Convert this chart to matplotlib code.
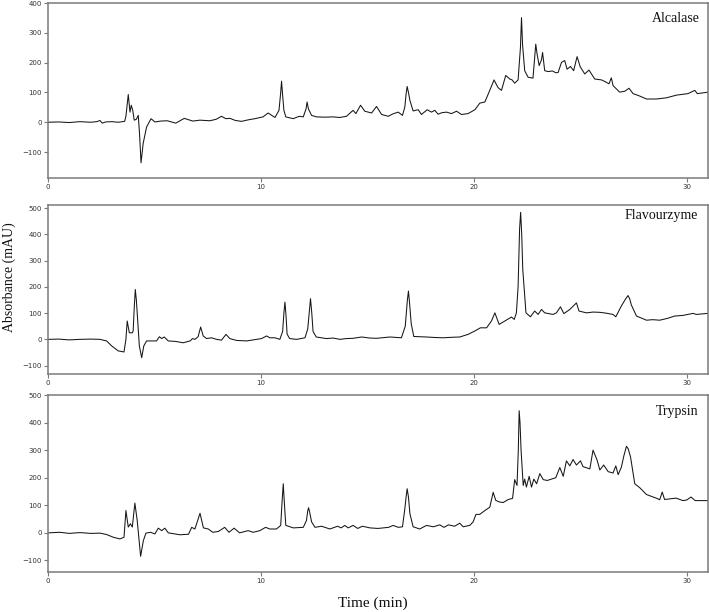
import matplotlib
matplotlib.use("Agg")
import matplotlib.pyplot as plt

# ---------------- data: (time min, absorbance mAU) ----------------
alcalase = [
    (0, 0), (0.5, 1), (1.0, -1), (1.5, 2), (2.0, 0), (2.3, 2), (2.44, 6), (2.55, -3), (2.7, 1),
    (3.0, 2), (3.3, 0), (3.6, 3), (3.66, 20), (3.77, 93), (3.85, 34), (3.91, 57), (3.98, 40),
    (4.05, 7), (4.15, 10), (4.24, 23), (4.3, -40), (4.37, -136), (4.47, -71), (4.63, -16),
    (4.84, 12), (5.02, 1), (5.3, 4), (5.6, 5), (6.0, -3), (6.4, 13), (6.8, 4), (7.14, 7),
    (7.6, 5), (7.9, 10), (8.15, 20), (8.35, 12), (8.55, 13), (8.8, 6), (9.09, 3), (9.4, 8),
    (9.72, 12), (10.1, 18), (10.34, 31), (10.66, 16), (10.85, 40), (10.93, 100), (10.97, 138),
    (11.01, 100), (11.08, 40), (11.17, 18), (11.52, 12), (11.8, 20), (11.99, 18), (12.12, 45),
    (12.17, 68), (12.23, 45), (12.38, 23), (12.61, 18), (13.0, 17), (13.39, 18), (13.7, 16),
    (14.02, 20), (14.33, 40), (14.46, 29), (14.68, 57), (14.88, 37), (15.2, 31), (15.43, 53),
    (15.67, 26), (15.98, 20), (16.2, 28), (16.45, 34), (16.65, 23), (16.76, 51), (16.82, 95),
    (16.87, 120), (16.93, 100), (17.0, 73), (17.15, 38), (17.39, 42), (17.54, 26), (17.81, 42),
    (18.01, 34), (18.17, 40), (18.32, 27), (18.5, 32), (18.72, 34), (18.95, 29), (19.19, 37),
    (19.42, 26), (19.73, 29), (20.05, 42), (20.28, 64), (20.52, 68), (20.75, 107), (20.95, 142),
    (21.14, 116), (21.3, 107), (21.5, 157), (21.69, 145), (21.8, 142), (21.92, 131), (22.08, 142),
    (22.19, 250), (22.24, 351), (22.29, 260), (22.39, 173), (22.55, 151), (22.78, 148),
    (22.86, 220), (22.91, 262), (22.97, 230), (23.07, 190), (23.18, 210), (23.23, 234),
    (23.33, 173), (23.49, 170), (23.7, 172), (23.85, 166), (23.96, 167), (24.12, 201),
    (24.27, 207), (24.38, 178), (24.54, 187), (24.69, 173), (24.85, 220), (25.0, 186),
    (25.21, 162), (25.41, 175), (25.68, 145), (26.0, 142), (26.2, 135), (26.35, 129),
    (26.46, 149), (26.54, 123), (26.85, 101), (27.09, 104), (27.29, 114), (27.48, 96),
    (27.79, 88), (28.11, 78), (28.58, 78), (29.05, 82), (29.52, 91), (30.06, 96), (30.38, 107),
    (30.5, 96), (31.0, 101),
]

flavourzyme = [
    (0, 0), (0.5, 1), (1.0, -2), (1.5, 0), (2.0, 1), (2.44, 0), (2.75, -6), (2.99, -25),
    (3.3, -44), (3.57, -48), (3.66, 0), (3.72, 70), (3.82, 25), (3.96, 25), (4.0, 32),
    (4.05, 120), (4.1, 190), (4.15, 150), (4.19, 101), (4.29, -25), (4.4, -70), (4.5, -25),
    (4.63, -6), (4.86, -6), (5.1, -6), (5.23, 10), (5.34, 3), (5.46, 9), (5.65, -6), (6.0, -8),
    (6.35, -13), (6.67, -6), (6.79, 3), (6.9, 0), (7.05, 10), (7.17, 47), (7.29, 13), (7.45, 3),
    (7.68, 6), (7.92, 0), (8.15, -3), (8.36, 19), (8.54, 3), (8.85, -4), (9.33, -6), (9.8, 0),
    (10.03, 3), (10.27, 13), (10.42, 6), (10.66, 6), (10.89, 0), (11.02, 30), (11.08, 100),
    (11.13, 142), (11.18, 90), (11.23, 20), (11.35, 3), (11.68, 0), (12.07, 6), (12.2, 40),
    (12.28, 110), (12.33, 155), (12.39, 100), (12.45, 30), (12.6, 9), (13.08, 3), (13.4, 5),
    (13.71, 0), (14.0, 3), (14.33, 4), (14.73, 9), (15.12, 5), (15.43, 4), (15.8, 7), (16.06, 9),
    (16.6, 6), (16.78, 50), (16.88, 150), (16.93, 184), (16.98, 140), (17.06, 60), (17.18, 11),
    (17.78, 9), (18.2, 7), (18.56, 6), (19.0, 8), (19.34, 9), (19.73, 19), (20.05, 32),
    (20.31, 44), (20.6, 44), (20.83, 70), (20.99, 101), (21.19, 57), (21.46, 70), (21.77, 85),
    (21.9, 76), (22.0, 101), (22.08, 200), (22.15, 420), (22.2, 484), (22.25, 400), (22.3, 266),
    (22.45, 101), (22.66, 86), (22.86, 108), (23.02, 95), (23.18, 114), (23.33, 101),
    (23.72, 95), (23.88, 101), (24.07, 124), (24.23, 98), (24.51, 114), (24.82, 139),
    (24.94, 108), (25.29, 101), (25.6, 104), (25.92, 103), (26.2, 100), (26.54, 95),
    (26.67, 86), (26.93, 127), (27.1, 150), (27.24, 167), (27.32, 155), (27.4, 131),
    (27.64, 89), (28.11, 73), (28.4, 75), (28.73, 73), (29.1, 80), (29.44, 89), (29.8, 91),
    (30.3, 99), (30.45, 95), (31.0, 99),
]

trypsin = [
    (0, 0), (0.56, 2), (1.0, -2), (1.5, 1), (2.0, -2), (2.44, -1), (2.75, -6), (3.07, -16),
    (3.38, -22), (3.57, -16), (3.66, 81), (3.77, 21), (3.87, 33), (3.96, 21), (4.08, 108),
    (4.19, 45), (4.35, -85), (4.48, -28), (4.6, -1), (4.82, 2), (5.02, -4), (5.18, 17),
    (5.34, 8), (5.49, 17), (5.65, 0), (6.2, -7), (6.6, -5), (6.75, 20), (6.9, 14), (7.14, 71),
    (7.3, 18), (7.53, 14), (7.74, 2), (8.0, 5), (8.3, 20), (8.5, 2), (8.74, 17), (9.0, 0),
    (9.4, 8), (9.64, 2), (9.95, 8), (10.22, 20), (10.42, 14), (10.73, 14), (10.93, 27),
    (11.0, 120), (11.05, 178), (11.1, 110), (11.17, 27), (11.52, 18), (11.99, 20), (12.14, 45),
    (12.2, 80), (12.24, 91), (12.29, 75), (12.38, 40), (12.54, 20), (12.85, 24), (13.24, 14),
    (13.6, 24), (13.77, 18), (13.94, 27), (14.1, 18), (14.33, 27), (14.55, 16), (14.77, 24),
    (15.12, 18), (15.5, 16), (16.0, 20), (16.21, 27), (16.45, 20), (16.65, 22), (16.76, 87),
    (16.82, 130), (16.87, 160), (16.93, 130), (17.0, 69), (17.15, 22), (17.46, 14), (17.78, 27),
    (18.1, 22), (18.4, 29), (18.6, 20), (18.81, 29), (19.1, 24), (19.34, 35), (19.5, 22),
    (19.81, 27), (19.97, 40), (20.1, 67), (20.28, 67), (20.52, 81), (20.75, 93), (20.91, 147),
    (21.03, 118), (21.2, 112), (21.38, 110), (21.62, 121), (21.82, 125), (21.92, 193),
    (22.03, 172), (22.09, 300), (22.13, 443), (22.17, 400), (22.22, 300), (22.32, 172),
    (22.39, 195), (22.47, 166), (22.6, 205), (22.71, 166), (22.82, 195), (22.95, 178),
    (23.1, 215), (23.26, 193), (23.45, 190), (23.65, 195), (23.85, 200), (24.04, 237),
    (24.2, 205), (24.35, 261), (24.51, 243), (24.66, 266), (24.82, 246), (25.01, 261),
    (25.13, 240), (25.3, 236), (25.45, 232), (25.6, 300), (25.79, 264), (25.92, 228),
    (26.1, 246), (26.31, 222), (26.54, 217), (26.67, 243), (26.78, 211), (26.93, 238),
    (27.05, 280), (27.17, 314), (27.25, 305), (27.36, 276), (27.56, 178), (27.79, 164),
    (28.11, 139), (28.42, 130), (28.6, 125), (28.73, 120), (28.85, 148), (28.96, 121),
    (29.3, 124), (29.5, 126), (29.82, 117), (30.0, 119), (30.2, 130), (30.4, 117), (31.0, 117),
]

panel_names = ["Alcalase", "Flavourzyme", "Trypsin"]
yticks_list = [[-100, 0, 100, 200, 300, 400],
               [-100, 0, 100, 200, 300, 400, 500],
               [-100, 0, 100, 200, 300, 400, 500]]
ylims = [(-187, 400), (-132, 512), (-142, 500)]
xticks = [0, 10, 20, 30]

# ---------------- figure ----------------
W, H = 709, 612
fig = plt.figure(figsize=(W / 100, H / 100), dpi=100)
boxes = [(48, 3, 708, 178), (48, 205, 708, 374), (48, 395, 708, 572)]
series = [alcalase, flavourzyme, trypsin]
label_pos = [(0.988, 0.914), (0.985, 0.94), (0.986, 0.904)]

spine_col = "#7a7a7a"
for i, ((l, t, r, b), pts) in enumerate(zip(boxes, series)):
    xs = [p[0] for p in pts]
    ys = [p[1] for p in pts]
    ax = fig.add_axes([l / W, 1 - b / H, (r - l) / W, (b - t) / H])
    ax.plot(xs, ys, color="#161616", lw=0.75)
    ax.set_xlim(0, 31.0)
    ax.set_ylim(*ylims[i])
    ax.set_xticks(xticks)
    ax.set_yticks(yticks_list[i])
    ax.tick_params(axis="both", direction="out", length=2.8, width=0.8,
                   color=spine_col, labelsize=5, labelcolor="#333333", pad=1.5)
    for s in ax.spines.values():
        s.set_color(spine_col)
        s.set_linewidth(1.1)
    lx, ly = label_pos[i]
    ax.text(lx, ly, panel_names[i], transform=ax.transAxes, ha="right", va="center",
            family="Liberation Serif", fontsize=10, color="#111111")

fig.text(0.0134, 0.547, "Absorbance (mAU)", rotation=90, ha="center", va="center",
         family="Liberation Serif", fontsize=10, color="#111111")
fig.text(373 / W, 1 - 603 / H, "Time (min)", ha="center", va="center",
         family="Liberation Serif", fontsize=11, color="#111111")

fig.savefig("out.png", dpi=100)
